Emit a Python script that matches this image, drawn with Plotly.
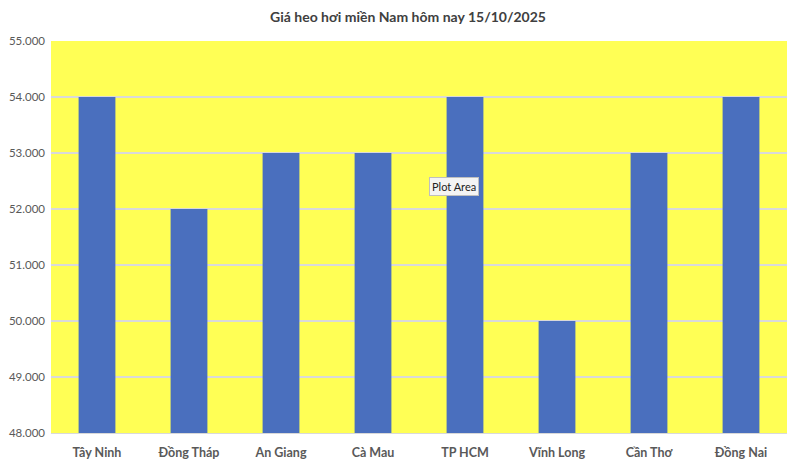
""" Giá heo hơi miền Nam - bar chart. """

import plotly.graph_objects as go

provinces = ["Tây Ninh", "Đồng Tháp", "An Giang", "Cà Mau", "TP HCM", "Vĩnh Long", "Cần Thơ", "Đồng Nai"]
prices = [54000, 52000, 53000, 53000, 54000, 50000, 53000, 54000]
y_ticks = [48000, 49000, 50000, 51000, 52000, 53000, 54000, 55000]

fig = go.Figure(
    go.Bar(
        x=provinces,
        y=prices,
        marker=dict(color="#4A6FBE", line=dict(width=0)),
        width=0.4,
    )
)

# page body adds ~8px offset, margins compensate for it
fig.update_layout(
    width=800,
    height=465,
    margin=dict(l=43, r=21, t=33, b=40, autoexpand=False),
    paper_bgcolor="white",
    plot_bgcolor="#FFFF55",
    font=dict(family="Lato, Open Sans, sans-serif", color="#595959"),
    separators=",.",
    showlegend=False,
    title=dict(
        text="<b>Giá heo hơi miền Nam hôm nay 15/10/2025</b>",
        x=0.5,
        xanchor="center",
        y=0.98,
        yanchor="middle",
        font=dict(size=14, color="#404040"),
    ),
)

fig.update_yaxes(
    range=[48000, 55000],
    tickvals=y_ticks,
    tickformat=",d",
    gridcolor="#D9D9D9",
    gridwidth=1.5,
    zeroline=False,
    tickfont=dict(size=11.5, color="#595959"),
    ticks="",
    ticklabelstandoff=5,
    automargin=False,
)
fig.update_xaxes(
    tickfont=dict(size=12.5, color="#595959"),
    tickprefix="<b>",
    ticksuffix="</b>",
    showline=True,
    linecolor="#D9D9D9",
    ticks="",
    ticklabelstandoff=8,
    automargin=False,
)

# excel hover tooltip seen in the screenshot
fig.add_annotation(
    x=0.548,
    y=0.628,
    xref="paper",
    yref="paper",
    text="Plot Area",
    showarrow=False,
    bgcolor="#F4F4F4",
    bordercolor="#BFBFBF",
    borderwidth=1,
    borderpad=2,
    font=dict(size=11, color="#222222", family="Lato, sans-serif"),
)

fig.write_html("out.html")
